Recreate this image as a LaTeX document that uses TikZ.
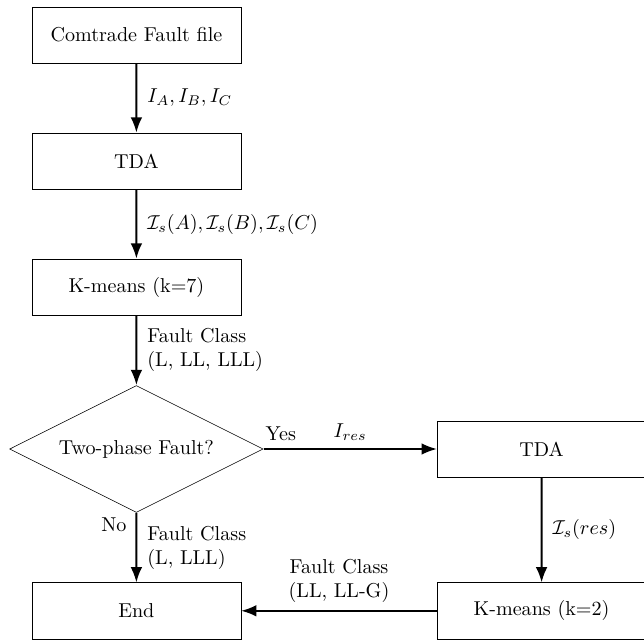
\documentclass[tikz,border=0pt]{standalone}
\usepackage{amsmath}
\usepackage{amssymb}
\usetikzlibrary{shapes.geometric,arrows.meta}

\begin{document}
\begin{tikzpicture}[
  big/.style={scale=1.43,transform shape},
  block/.style={draw,rectangle,big,minimum width=3.65cm,minimum height=0.98cm},
  decision/.style={draw,diamond,big,aspect=2,inner sep=0pt,minimum width=4.43cm,minimum height=2.22cm},
  line/.style={draw,line width=1.3pt,-{Latex[length=3.8mm,width=2.9mm]}},
  lbl/.style={big,align=left}
]
\useasboundingbox (0,0) rectangle (16.1,-16.05);

% Blocks
\node[block] (file) at (3.41,-0.875) {Comtrade Fault file};
\node[block] (tda) at (3.41,-4.025) {TDA};
\node[block] (km7) at (3.41,-7.175) {K-means (k=7)};
\node[decision] (two) at (3.41,-11.225) {Two-phase Fault?};
\node[block] (end) at (3.41,-15.27) {End};
\node[block] (tdares) at (13.54,-11.225) {TDA};
\node[block] (km2) at (13.54,-15.27) {K-means (k=2)};

% Arrows
\draw[line] (file) -- (tda) node[lbl,midway,right,xshift=1.5pt] {$I_A, I_B, I_C$};
\draw[line] (tda) -- (km7) node[lbl,midway,right,xshift=1.5pt] {$\mathcal{I}_s(A), \mathcal{I}_s(B), \mathcal{I}_s(C)$};
\draw[line] (km7) -- (two) node[lbl,midway,right,xshift=1.5pt] {Fault Class\\(L, LL, LLL)};
\draw[line] (two) -- (end) node[lbl,pos=0.17,left,xshift=-1pt] {No} node[lbl,midway,right,xshift=1.5pt] {Fault Class\\(L, LLL)};
\draw[line] (two.east) -- (tdares) node[lbl,pos=0.1,above] {Yes} node[lbl,midway,above] {$I_{res}$};
\draw[line] (tdares) -- (km2) node[lbl,midway,right,xshift=1.5pt] {$\mathcal{I}_s(res)$};
\draw[line] (km2) -- (end) node[lbl,midway,above,align=center] {Fault Class\\(LL, LL-G)};
\end{tikzpicture}
\end{document}
